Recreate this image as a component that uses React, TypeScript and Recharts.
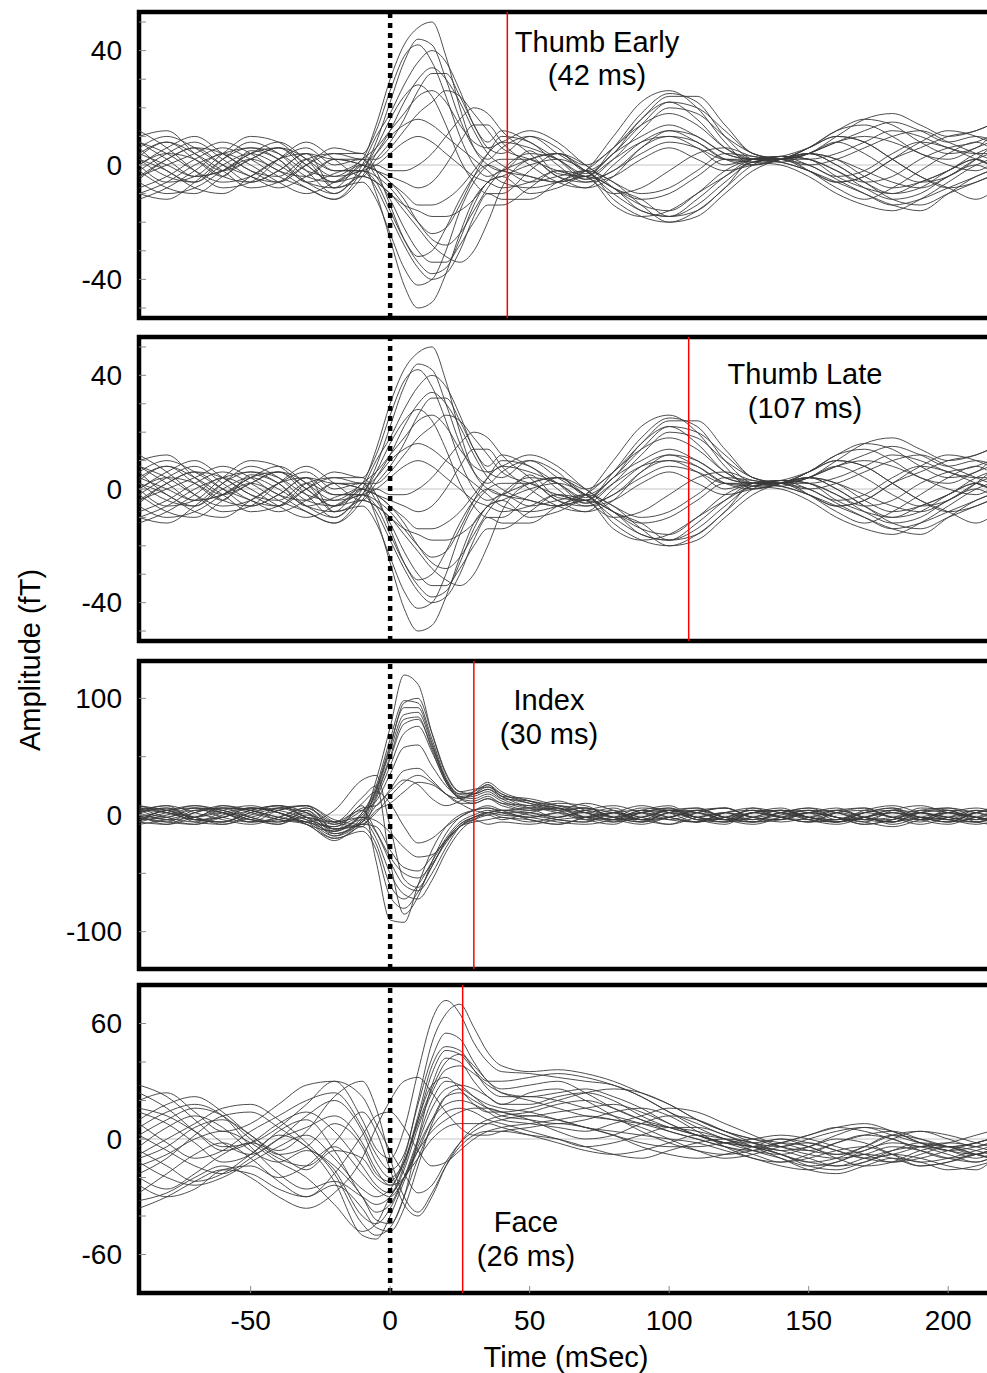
import { LineChart, Line, XAxis, YAxis, ReferenceLine, ReferenceArea } from "recharts";

// sample times (ms); denser around the evoked response
const times = [-90, -80, -70, -60, -50, -40, -30, -20, -10, -5, 0, 5, 10, 15, 20, 25, 30, 35, 40, 50, 60, 70, 80, 90, 100, 110, 120, 130, 140, 150, 160, 170, 180, 190, 200, 210, 215];

// thumb stimulation, shared by the "early" and "late" panels
const thumbTraces = [
  [3, 8, 2, -4, 5, 2, -6, -3, 2, 14, 30, 42, 48, 50, 38, 20, 6, 0, -2, 5, -3, -4, 6, 18, 25, 22, 10, 2, 1, 4, 8, 12, 15, 12, 8, 10, 9],
  [-5, 2, 6, 0, -6, -2, 4, -8, -2, 8, 22, 36, 44, 42, 30, 16, 6, 2, 6, 10, 4, -2, -8, -12, -18, -16, -8, 0, 3, 2, -4, -8, -10, -6, -2, 4, 6],
  [10, 12, 4, -2, 2, 6, -2, -10, 0, 10, 18, 28, 36, 40, 36, 26, 14, 8, 12, 8, 2, -5, 2, 12, 20, 18, 10, 4, 2, 0, -5, -10, -14, -12, -8, -4, -2],
  [-8, -4, 2, 6, 2, -4, -8, -12, -4, 4, 12, 22, 30, 34, 30, 22, 12, 4, 0, -4, -6, -2, 10, 22, 26, 20, 8, 0, 2, 6, 12, 14, 10, 4, 2, 6, 8],
  [6, -2, -6, 2, 8, 4, -4, -6, 2, 6, 12, 18, 24, 26, 22, 14, 8, 6, 8, 12, 8, 0, -6, -10, -8, -2, 4, 3, 2, 4, 10, 16, 18, 14, 10, 12, 14],
  [0, 6, 10, 4, -2, -6, 2, 4, 2, 2, 6, 12, 18, 22, 26, 24, 18, 12, 6, 2, -2, -4, 4, 10, 14, 10, 4, 2, 3, -2, -8, -12, -8, -2, 4, 8, 6],
  [-12, -8, -2, 4, 0, -6, -10, -6, 0, 4, 10, 14, 16, 14, 10, 6, 2, -2, -6, -8, -6, -2, -6, -14, -20, -18, -10, -2, 2, 4, 2, -4, -8, -6, -2, 2, 0],
  [4, 0, -4, -2, 4, 8, 2, -4, 0, 0, -2, -2, 0, 4, 10, 16, 20, 18, 12, 4, -4, -6, -2, 4, 8, 6, 2, 2, 1, -2, -6, -10, -14, -16, -10, -4, -2],
  [2, -4, -6, 0, 4, 0, -6, -8, 0, -10, -26, -42, -50, -48, -38, -24, -12, -6, -2, -6, -4, -2, -12, -18, -20, -16, -8, 2, 3, 6, 10, 8, 2, -4, -8, -12, -10],
  [-4, 2, 6, 4, -2, -4, 2, -2, -2, -8, -18, -28, -36, -40, -38, -30, -18, -10, -12, -12, -6, -2, 6, 14, 18, 14, 6, 2, 1, -2, -6, -4, 2, 6, 10, 12, 14],
  [8, 4, -2, -6, -4, 2, 6, 0, 2, -4, -12, -22, -30, -34, -34, -28, -20, -14, -14, -8, -2, -4, -10, -8, -2, 4, 6, 3, 2, 4, 0, -6, -12, -14, -10, -6, -4],
  [-10, -6, 0, 4, 6, 2, -6, -10, -4, -6, -10, -16, -22, -28, -32, -34, -30, -20, -8, 2, 4, -2, -8, -12, -10, -4, 2, 1, 0, -4, -10, -14, -16, -12, -6, 0, 2],
  [0, 4, 2, -4, -6, -2, 4, 2, 2, -2, -6, -12, -20, -26, -28, -24, -16, -8, -2, 4, 2, -4, 2, 8, 10, 6, 0, 2, 2, 4, 8, 10, 8, 4, 0, -2, 0],
  [6, 10, 6, 0, -4, -8, -4, 2, 0, -2, -6, -10, -14, -14, -12, -8, -2, 4, 8, 6, 2, -3, 4, 14, 22, 20, 12, 4, 2, 0, 2, 6, 10, 12, 8, 4, 2],
  [-6, -10, -8, -2, 4, 6, 0, -6, -2, -6, -16, -26, -32, -30, -22, -12, -4, 0, -2, -4, -6, -4, -14, -18, -16, -10, -4, 1, 2, 4, 2, -2, -6, -8, -4, 2, 4],
  [2, -2, -8, -10, -4, 2, 4, -2, -2, -4, -8, -14, -20, -24, -22, -14, -4, 4, 10, 8, 0, -6, -4, 2, 6, 2, -2, 0, 2, 6, 12, 16, 14, 8, 4, 6, 10],
  [-2, 4, 8, 2, -4, -6, 0, 6, 4, 12, 26, 38, 42, 36, 24, 10, 0, -4, -2, 2, 4, 0, -8, -14, -16, -10, -2, 2, 3, 0, -4, -2, 4, 8, 6, 2, 0],
  [12, 6, -2, -8, -6, 2, 8, 2, -4, 2, 8, 16, 26, 32, 32, 24, 14, 6, 4, 10, 6, -2, 4, 16, 22, 16, 6, 2, 2, 4, 8, 4, -2, -6, -4, 2, 6],
  [-2, -8, -10, -4, 2, 6, 2, -8, -6, -12, -24, -36, -42, -40, -30, -16, -6, 0, 2, 2, -4, -8, -4, 6, 10, 8, 2, 0, 2, 4, 0, -6, -10, -8, -2, 2, 0],
  [4, 8, 4, -2, -8, -6, 0, 4, 4, -2, -14, -26, -34, -38, -36, -26, -14, -6, -4, -10, -8, -4, -8, -16, -18, -12, -4, 2, 3, 2, -2, -8, -12, -10, -4, 0, -2],
  [-10, -12, -6, 2, 6, 4, -2, -4, -2, 0, 4, 8, 10, 8, 4, 0, -4, -6, -8, -6, -2, -5, -2, 6, 12, 10, 4, 2, 2, 6, 10, 8, 2, -4, -8, -6, -4],
  [0, -6, -4, 4, 10, 8, 0, -6, -4, -6, -10, -14, -16, -18, -18, -16, -12, -6, -4, 0, 2, -2, -10, -16, -18, -14, -6, 1, 2, -2, -6, -4, 2, 8, 12, 10, 8],
  [8, 2, -4, -2, 2, -2, -8, -12, -2, 6, 16, 24, 28, 24, 14, 2, -6, -10, -10, -2, 4, 0, 6, 16, 24, 24, 14, 4, 2, 2, 4, 8, 12, 10, 6, 4, 4],
  [-4, 0, 4, 8, 4, -2, -4, 2, 0, -2, -4, -6, -8, -6, 0, 8, 14, 14, 8, 0, -6, -8, 0, 8, 12, 8, 2, 1, 3, 2, -2, -6, -4, 2, 6, 8, 10],
];

const indexTraces = [
  [4, -2, 6, 2, -4, 6, 2, -18, -4, 30, 75, 120, 112, 70, 35, 20, 22, 24, 18, 10, 6, 2, 6, -2, 4, 2, -4, 6, 2, -2, 4, 6, -2, 2, -4, 4, 2],
  [-6, 4, -2, 8, 2, -4, -6, -14, 2, 25, 65, 98, 96, 65, 32, 18, 18, 22, 16, 8, 12, 4, -2, 4, 8, -2, 2, -4, 0, 4, -2, -6, 4, 8, 2, -2, 0],
  [2, 8, -4, -2, 6, 2, -8, -20, -6, 22, 60, 92, 92, 62, 30, 15, 16, 20, 14, 12, 8, 6, 2, -4, 2, 6, -2, 2, 4, -2, -6, 2, 6, -4, 2, 6, 4],
  [-2, -6, 4, 6, -2, -8, 4, -12, 0, 20, 55, 86, 88, 60, 30, 16, 14, 18, 12, 6, 10, 8, -2, 2, -4, -6, 2, 4, -2, 2, 6, -2, -4, 6, 4, -2, -4],
  [8, 2, -4, -6, 4, 8, -2, -16, -2, 18, 50, 82, 84, 56, 28, 14, 12, 16, 10, 8, 4, 10, 4, -4, -2, 4, 6, -2, 2, 6, 2, -4, 2, -2, -6, 2, 4],
  [-4, 2, 8, 2, -6, -2, 6, -8, 4, 12, 35, 58, 60, 42, 25, 16, 18, 26, 16, 14, 8, 2, -4, 2, 6, -2, -4, 2, 6, -2, -4, 4, 8, 2, -2, -4, -2],
  [0, -8, -2, 4, 8, 2, -4, -10, 6, 8, 22, 38, 40, 30, 18, 10, 10, 14, 8, 4, 6, -2, 2, 8, 2, -6, 2, 6, -2, -4, 2, -2, -6, 4, 6, 2, 0],
  [6, 4, -6, -8, 0, 6, 8, -4, -8, 4, 10, 20, 28, 26, 18, 10, 4, 2, 4, 0, -4, -6, 2, -2, -8, 2, 6, -2, -4, 2, -2, -8, -4, 2, -2, -6, -4],
  [-6, 0, 6, 4, -4, -6, 2, -14, 8, -40, -90, -92, -60, -30, -10, 0, 4, 6, 2, -2, 2, -4, -8, 2, 4, -2, -6, -2, 4, -4, -8, -2, 4, -4, -8, -2, -4],
  [2, 6, -2, -6, 2, 8, -2, -6, 15, 25, -40, -85, -70, -40, -16, -2, 4, 8, 4, -4, -8, -2, 4, -4, -2, 4, -2, -6, -2, 2, -2, -6, -10, -4, 2, -2, -6],
  [-8, -4, 2, 8, 4, -4, -8, -22, -10, -25, -60, -72, -60, -40, -20, -6, 0, 4, 2, 2, -2, 4, -2, -6, 2, -4, -8, 2, -2, -6, 2, 4, -2, -8, -2, 4, 2],
  [4, 8, 2, -4, -8, -2, 6, -6, -2, -15, -40, -60, -65, -50, -28, -10, -2, 2, 0, -2, -6, -8, -4, 2, -2, -6, 2, -2, -6, -2, 4, -2, -6, -2, -4, -8, -6],
  [-2, -6, -8, 0, 6, 4, -4, -18, -8, -10, -30, -45, -48, -36, -22, -10, -6, -4, -2, -6, -2, 2, -6, -2, 4, -2, -4, 2, -2, -6, -4, 2, -2, -6, 2, -2, -4],
  [6, -2, -6, 2, 6, 2, -6, -10, -2, -5, -15, -28, -36, -34, -22, -10, -4, -8, -6, -8, -4, -2, -4, -8, -2, 2, -4, -6, 2, -2, -6, -2, -8, -2, 2, -6, -8],
  [2, -4, -2, 6, 4, -2, -6, 4, 30, 34, -10, -55, -62, -44, -22, -8, -2, 0, -4, 2, 6, -2, -6, 2, 6, -4, -2, 4, -2, -6, 2, 6, -2, -4, 4, 2, -2],
  [-4, 4, 6, -2, -6, 4, 8, -12, -6, 8, 20, 30, 26, 14, 8, 12, 20, 28, 20, 12, 4, -2, 2, -6, -2, 4, -2, -6, 2, 4, -4, -2, 2, -4, -2, 2, 4],
  [2, 6, -4, -6, 2, 6, -2, -12, 2, 22, 58, 96, 100, 70, 36, 20, 18, 22, 14, 6, -2, 4, 8, 2, -4, 2, 6, -2, -4, 2, 4, -2, -6, 2, 4, -4, -2],
  [-4, -2, 4, 2, -6, -4, 4, -16, -6, 16, 48, 78, 82, 58, 30, 18, 20, 26, 18, 12, 6, -2, -4, 4, 2, -2, -6, 2, 4, -2, -6, 2, 4, -2, -4, 2, 6],
  [6, 2, -2, -8, -2, 4, 8, -6, -10, 14, 42, 70, 76, 54, 28, 14, 10, 14, 10, 4, 8, 2, -4, -2, 4, 6, -2, -4, 2, 6, -2, -4, -2, 4, 2, -2, -4],
  [-6, -8, 2, 6, 4, -2, -6, -20, -14, -30, -70, -80, -66, -44, -22, -8, -2, 2, -2, -4, -8, -2, 2, -4, -8, -2, 2, -6, -4, 2, -2, -8, -4, 2, -4, -6, -2],
  [4, 2, -4, -2, 6, 2, -8, -14, -4, -20, -50, -68, -72, -56, -32, -14, -4, 2, 4, 2, -4, -6, 2, 4, -2, -6, -2, 4, 2, -4, -6, -2, 4, 2, -2, -6, -4],
  [-2, 4, 8, 4, -2, -6, -2, -8, 10, 20, 10, -10, -24, -20, -10, -2, 4, 6, 4, 6, 2, -4, -2, 6, 4, -4, -6, 2, 4, -2, -4, 2, 6, -2, -6, -2, 2],
  [0, -4, -8, -2, 4, 8, 2, -12, -8, 2, 16, 28, 34, 28, 18, 14, 18, 24, 16, 10, 4, 6, -2, -6, 2, 4, -4, -2, 4, 2, -6, -2, 2, -2, -6, 2, 4],
  [8, 4, -2, 2, -4, -8, 0, -6, 4, -14, -36, -50, -54, -42, -24, -10, -4, 0, 2, -2, 2, 6, -2, -4, 4, 2, -4, -8, -2, 4, 2, -4, -6, 2, 6, -2, -4],
];

const faceTraces = [
  [20, 24, 14, 4, 8, 18, 28, 30, 10, -5, -10, 5, 35, 62, 72, 65, 50, 40, 35, 34, 32, 30, 28, 22, 14, 8, 2, -2, -4, 0, 4, 6, 2, -2, -4, -2, 0],
  [-10, -4, 6, 10, 2, -8, -4, 8, -4, -18, -22, -10, 20, 50, 65, 70, 58, 45, 38, 35, 36, 34, 30, 24, 18, 10, 4, 0, -2, -6, -8, -4, 2, 4, 0, -4, -2],
  [8, -2, -10, -6, 4, 12, 20, 24, 6, -8, -16, -8, 18, 42, 55, 52, 40, 30, 26, 28, 30, 24, 16, 10, 6, 2, -2, -6, -8, -4, 2, 6, 4, -2, -6, -4, -2],
  [-20, -26, -18, -8, -2, -8, -16, -6, -10, -20, -24, -12, 12, 38, 48, 46, 36, 26, 22, 22, 20, 16, 12, 8, 4, 0, -4, -8, -12, -10, -6, -4, -8, -12, -10, -6, -4],
  [-4, 6, 12, 6, -6, -12, -6, -14, -30, -42, -44, -30, 0, 28, 42, 40, 30, 22, 18, 18, 22, 24, 20, 12, 6, 2, -2, -4, -8, -12, -10, -4, 2, 0, -4, -8, -6],
  [24, 16, 4, -6, -2, 8, 14, 4, -14, -24, -28, -14, 10, 28, 32, 26, 18, 14, 14, 16, 20, 24, 26, 24, 18, 10, 4, 0, -4, -6, -2, 2, 4, 0, -4, -2, 0],
  [-28, -18, -8, -2, -10, -22, -30, -24, -36, -46, -48, -36, -14, 8, 22, 26, 22, 18, 16, 14, 10, 6, 4, 2, 0, -2, -6, -10, -14, -16, -12, -8, -10, -14, -12, -8, -6],
  [-6, -14, -22, -18, -8, 2, -4, -22, -50, -52, -40, -22, -4, 10, 18, 20, 18, 14, 10, 8, 6, 4, 8, 12, 16, 14, 8, 2, -4, -8, -10, -8, -4, -6, -10, -12, -10],
  [14, 8, -2, -12, -8, 4, 10, -6, -30, -38, -34, -20, -6, 4, 10, 14, 16, 16, 14, 10, 4, 0, 2, 8, 12, 10, 4, -2, -8, -12, -14, -10, -6, -4, -6, -10, -8],
  [-32, -28, -20, -14, -20, -30, -36, -28, -10, 6, 20, 30, 32, 24, 14, 6, 2, 2, 4, 6, 8, 6, 2, -4, -8, -10, -8, -4, 0, -2, -6, -10, -12, -8, -4, -6, -8],
  [2, 10, 16, 12, 0, -10, -14, -2, 14, 4, -16, -34, -40, -30, -14, -2, 6, 10, 12, 14, 18, 20, 16, 10, 4, 0, -4, -6, -2, 2, 6, 4, 0, -4, -2, 2, 4],
  [-14, -8, 0, 4, -2, -12, -20, -34, -48, -44, -30, -20, -10, 0, 6, 8, 8, 8, 6, 2, -2, -6, -8, -6, -2, 2, 0, -4, -8, -14, -16, -12, -8, -10, -14, -16, -12],
  [10, 18, 22, 14, 2, -6, 4, 22, 30, 16, -10, -30, -38, -28, -14, -4, 2, 4, 4, 2, 0, -4, -8, -10, -6, -2, 0, -2, -6, -4, 0, -2, -8, -14, -12, -8, -10],
  [-24, -30, -26, -16, -14, -20, -14, -4, -18, -26, -30, -20, -2, 16, 26, 28, 26, 22, 18, 24, 26, 20, 12, 4, -2, -6, -8, -6, -2, -4, -10, -14, -12, -6, -4, -8, -10],
  [28, 22, 10, -2, -8, 0, 12, 20, 4, -12, -20, -12, 10, 34, 46, 44, 36, 30, 30, 32, 34, 32, 28, 22, 14, 6, 0, -4, -2, 2, 6, 8, 4, -2, -6, -8, -6],
  [-18, -10, 2, 12, 14, 6, -4, -16, -40, -44, -36, -20, 0, 20, 30, 28, 22, 16, 12, 10, 8, 10, 14, 16, 12, 4, -4, -10, -12, -8, -2, 2, 0, -6, -10, -8, -6],
  [6, 14, 18, 12, -4, -18, -26, -22, -30, -34, -30, -16, 6, 24, 36, 38, 34, 28, 24, 20, 16, 12, 10, 8, 6, 4, 0, -6, -10, -14, -12, -6, -2, -4, -8, -12, -10],
  [-36, -30, -22, -16, -18, -26, -30, -18, 2, 12, 14, 6, -6, -14, -12, -6, 0, 4, 6, 8, 10, 12, 10, 6, 0, -6, -10, -8, -4, -2, -6, -10, -8, -4, -2, -4, -6],
  [16, 12, 4, -4, -2, 6, 18, 30, 22, 8, -6, -18, -28, -24, -12, -2, 4, 8, 10, 12, 10, 6, 2, -2, -4, -4, -2, 0, 2, 0, -4, -8, -12, -10, -6, -2, 0],
  [-12, -20, -24, -20, -12, -4, 2, -10, -26, -30, -26, -12, 8, 26, 40, 44, 38, 30, 24, 22, 24, 26, 22, 16, 8, 2, -2, -4, -6, -10, -14, -12, -6, -2, -4, -8, -10],
  [2, -6, -14, -18, -10, 0, 6, 12, -2, -16, -24, -20, -6, 10, 22, 24, 20, 16, 14, 12, 14, 16, 18, 14, 8, 2, -2, -2, 0, -4, -8, -6, 0, 4, 2, -2, -4],
  [-8, 0, 8, 16, 18, 10, -2, -18, -44, -50, -46, -30, -10, 6, 14, 16, 14, 10, 8, 4, 0, -4, -2, 2, 6, 6, 2, -4, -10, -16, -18, -14, -10, -12, -16, -14, -12],
];

const xTicks = [-50, 0, 50, 100, 150, 200];
const X_DOMAIN: [number, number] = [-90, 220];

const FONT = '"Liberation Sans", Arial, Helvetica, sans-serif';
const Y_GAP = 17;
const X_GAP = 27;

function toRows(traces: number[][]) {
  return times.map((t, i) => {
    const row: Record<string, number> = { t };
    traces.forEach((tr, k) => {
      row[`s${k}`] = tr[i];
    });
    return row;
  });
}

function YTick(props: any) {
  const { x, y, payload, labels } = props;
  const ax = x + Y_GAP;
  return (
    <g>
      <line x1={ax} x2={ax + 7} y1={y} y2={y} stroke="#8a8a8a" strokeWidth={1} />
      {labels.includes(payload.value) && (
        <text x={x} y={y} textAnchor="end" dominantBaseline="central" fontSize={28} fontFamily={FONT} fill="#000">
          {payload.value}
        </text>
      )}
    </g>
  );
}

function XTick(props: any) {
  const { x, y, payload, gap, dir, showLabel } = props;
  const ay = y - dir * gap;
  return (
    <g>
      <line x1={x} x2={x} y1={ay} y2={ay - dir * 7} stroke="#8a8a8a" strokeWidth={1} />
      {showLabel && (
        <text x={x} y={y} textAnchor="middle" dominantBaseline="central" fontSize={28} fontFamily={FONT} fill="#000">
          {payload.value}
        </text>
      )}
    </g>
  );
}

interface PanelProps {
  top: number;
  bottom: number;
  limit: number;
  yTicks: number[];
  yLabels: number[];
  traces: number[][];
  marker: number;
  last?: boolean;
}

function Panel({ top, bottom, limit, yTicks, yLabels, traces, marker, last }: PanelProps) {
  const rows = toRows(traces);
  const mTop = 10;
  const axisH = last ? 50 : 0;
  const mBottom = last ? 0 : 10;
  const height = bottom - top + mTop + mBottom + axisH;
  return (
    <div style={{ position: "absolute", left: 0, top: top - mTop }}>
      <LineChart width={1010} height={height} data={rows} margin={{ top: mTop, right: 6, bottom: mBottom, left: 79 }}>
        <XAxis
          dataKey="t"
          type="number"
          domain={X_DOMAIN}
          ticks={xTicks}
          interval={0}
          allowDataOverflow
          axisLine={false}
          tickLine={false}
          tickSize={0}
          tickMargin={last ? X_GAP : 0}
          height={axisH}
          tick={(p: any) => <XTick {...p} gap={last ? X_GAP : 0} dir={1} showLabel={!!last} />}
        />
        <XAxis
          xAxisId="top"
          orientation="top"
          dataKey="t"
          type="number"
          domain={X_DOMAIN}
          ticks={xTicks}
          interval={0}
          allowDataOverflow
          axisLine={false}
          tickLine={false}
          tickSize={0}
          tickMargin={0}
          height={0}
          tick={(p: any) => <XTick {...p} gap={0} dir={-1} showLabel={false} />}
        />
        <YAxis
          type="number"
          domain={[-limit, limit]}
          ticks={yTicks}
          interval={0}
          allowDataOverflow
          width={60}
          axisLine={false}
          tickLine={false}
          tickSize={0}
          tickMargin={Y_GAP}
          tick={(p: any) => <YTick {...p} labels={yLabels} />}
        />
        <ReferenceLine y={0} stroke="#c4c4c4" strokeWidth={1} />
        {traces.map((_, k) => (
          <Line
            key={k}
            dataKey={`s${k}`}
            type="monotone"
            stroke="#3a3a3a"
            strokeWidth={0.9}
            dot={false}
            isAnimationActive={false}
          />
        ))}
        <ReferenceLine x={0} stroke="#000" strokeWidth={4.5} strokeDasharray="5 5" />
        <ReferenceLine x={marker} stroke="#ff0000" strokeWidth={1.5} />
        <ReferenceArea
          x1={X_DOMAIN[0]}
          x2={X_DOMAIN[1]}
          y1={-limit}
          y2={limit}
          fill="none"
          fillOpacity={0}
          stroke="#000"
          strokeWidth={4.5}
        />
      </LineChart>
    </div>
  );
}

function Note({ x, y, children }: { x: number; y: number; children: string }) {
  return (
    <div
      style={{
        position: "absolute",
        left: x,
        top: y,
        transform: "translate(-50%, -50%)",
        fontSize: 29,
        lineHeight: 1,
        whiteSpace: "nowrap",
        color: "#000",
      }}
    >
      {children}
    </div>
  );
}

export default function App() {
  return (
    <div
      style={{
        position: "fixed",
        left: 0,
        top: 0,
        width: 987,
        height: 1373,
        overflow: "hidden",
        background: "#fff",
        fontFamily: FONT,
      }}
    >
      <Panel top={12} bottom={318} limit={53.5} yTicks={[-50, -40, -30, -20, -10, 0, 10, 20, 30, 40, 50]} yLabels={[-40, 0, 40]} traces={thumbTraces} marker={42} />
      <Panel top={337} bottom={641} limit={53.5} yTicks={[-50, -40, -30, -20, -10, 0, 10, 20, 30, 40, 50]} yLabels={[-40, 0, 40]} traces={thumbTraces} marker={107} />
      <Panel top={661} bottom={969} limit={132} yTicks={[-100, -50, 0, 50, 100]} yLabels={[-100, 0, 100]} traces={indexTraces} marker={30} />
      <Panel top={985} bottom={1293} limit={80} yTicks={[-60, -40, -20, 0, 20, 40, 60]} yLabels={[-60, 0, 60]} traces={faceTraces} marker={26} last />

      <Note x={597} y={42}>Thumb Early</Note>
      <Note x={597} y={75}>(42 ms)</Note>
      <Note x={805} y={374}>Thumb Late</Note>
      <Note x={805} y={408}>(107 ms)</Note>
      <Note x={549} y={700}>Index</Note>
      <Note x={549} y={734}>(30 ms)</Note>
      <Note x={526} y={1222}>Face</Note>
      <Note x={526} y={1256}>(26 ms)</Note>

      <Note x={566} y={1357}>Time (mSec)</Note>
      <div
        style={{
          position: "absolute",
          left: 30,
          top: 660,
          transform: "translate(-50%, -50%) rotate(-90deg)",
          fontSize: 29,
          lineHeight: 1,
          whiteSpace: "nowrap",
        }}
      >
        Amplitude (fT)
      </div>
    </div>
  );
}
